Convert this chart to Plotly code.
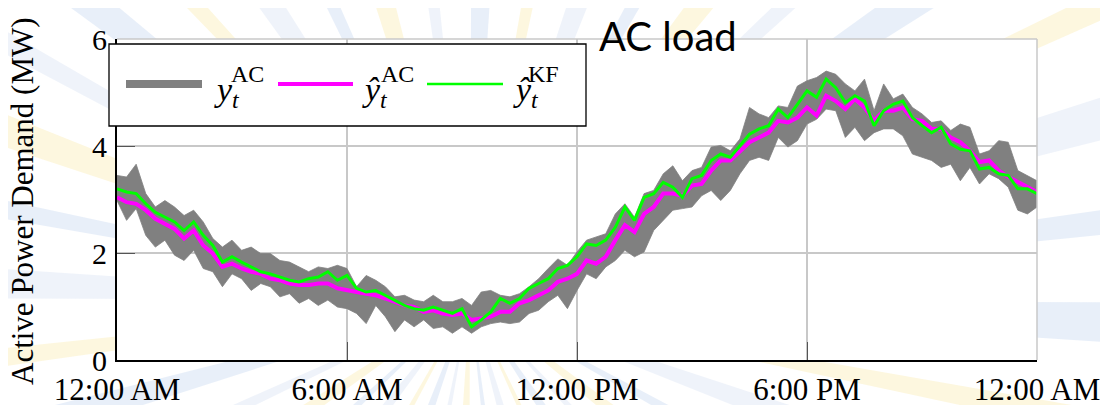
import math
import plotly.graph_objects as go

# time axis: hours of the day, 15-minute steps
hours = [i * 0.25 for i in range(97)]

# gray band (measured AC load) upper / lower envelope, MW
ac_upper = [3.45, 3.42, 3.66, 3.11, 2.86, 2.98, 2.86, 2.70, 2.80, 2.58, 2.27, 2.11, 2.24, 2.05, 2.11, 1.99, 1.99, 1.86, 1.83, 1.74, 1.65, 1.74, 1.71, 1.77, 1.71,
            1.37, 1.58, 1.49, 1.37, 1.18, 1.21, 1.12, 1.09, 1.21, 1.09, 1.09, 1.15, 1.02, 1.27, 1.30, 1.21, 1.18, 1.24, 1.37, 1.52, 1.71, 1.89, 1.77, 2.02,
            2.24, 2.30, 2.36, 2.73, 2.92, 2.67, 3.11, 3.17, 3.48, 3.63, 3.35, 3.54, 3.60, 3.98, 4.01, 3.91, 4.13, 4.72, 4.60, 4.53, 4.75, 4.72, 5.12, 5.22,
            5.28, 5.40, 5.34, 5.16, 5.03, 5.25, 4.66, 5.16, 4.88, 4.97, 4.72, 4.60, 4.44, 4.47, 4.29, 4.41, 4.35, 3.85, 3.91, 4.10, 4.07, 3.54, 3.45, 3.35]
ac_lower = [2.98, 2.61, 2.83, 2.33, 2.11, 2.24, 1.96, 1.86, 2.05, 1.71, 1.65, 1.37, 1.61, 1.52, 1.30, 1.43, 1.37, 1.18, 1.24, 1.06, 1.15, 1.02, 1.12, 0.99, 0.96,
            0.87, 0.68, 1.02, 0.81, 0.53, 0.75, 0.62, 0.75, 0.59, 0.62, 0.50, 0.62, 0.50, 0.62, 0.68, 0.71, 0.68, 0.71, 0.87, 0.93, 1.09, 1.21, 0.96, 1.30,
            1.61, 1.52, 1.74, 1.86, 2.05, 1.93, 2.02, 2.42, 2.61, 2.80, 2.83, 2.86, 3.07, 3.17, 2.98, 3.17, 3.48, 3.73, 3.79, 3.73, 4.16, 3.98, 4.10, 4.41,
            4.50, 4.69, 4.66, 4.16, 4.35, 4.10, 4.25, 4.32, 4.32, 4.19, 3.85, 3.79, 3.73, 3.60, 3.66, 3.35, 3.60, 3.29, 3.48, 3.39, 3.23, 2.80, 2.73, 2.86]
# estimated AC load (magenta)
ac_est = [3.04, 2.95, 2.92, 2.80, 2.64, 2.55, 2.45, 2.27, 2.42, 2.14, 1.99, 1.74, 1.80, 1.71, 1.65, 1.61, 1.52, 1.49, 1.43, 1.40, 1.40, 1.43, 1.43, 1.34, 1.30,
          1.27, 1.24, 1.21, 1.15, 1.09, 1.02, 0.99, 0.90, 0.93, 0.87, 0.84, 0.87, 0.75, 0.78, 0.81, 0.90, 0.90, 1.06, 1.12, 1.21, 1.30, 1.46, 1.52, 1.61,
          1.86, 1.80, 1.93, 2.24, 2.52, 2.39, 2.73, 2.86, 3.11, 3.11, 3.07, 3.26, 3.29, 3.54, 3.73, 3.73, 3.91, 4.07, 4.16, 4.25, 4.47, 4.44, 4.53, 4.72,
          4.57, 4.94, 4.84, 4.69, 4.88, 4.72, 4.47, 4.66, 4.66, 4.72, 4.50, 4.47, 4.32, 4.32, 4.16, 4.07, 3.91, 3.70, 3.73, 3.54, 3.42, 3.32, 3.23, 3.14]
# Kalman filter estimate (green)
kf_est = [3.20, 3.14, 3.11, 2.92, 2.76, 2.67, 2.58, 2.42, 2.58, 2.33, 2.14, 1.83, 1.93, 1.83, 1.74, 1.65, 1.61, 1.55, 1.49, 1.46, 1.52, 1.55, 1.65, 1.49, 1.58,
          1.34, 1.27, 1.30, 1.21, 1.12, 1.02, 0.96, 0.93, 0.99, 0.93, 0.87, 0.96, 0.62, 0.75, 0.90, 1.15, 1.06, 1.15, 1.34, 1.43, 1.52, 1.71, 1.77, 1.93,
          2.17, 2.14, 2.24, 2.48, 2.86, 2.61, 3.04, 3.11, 3.32, 3.23, 3.04, 3.39, 3.45, 3.73, 3.85, 3.79, 4.01, 4.22, 4.32, 4.38, 4.69, 4.53, 4.78, 5.03,
          4.91, 5.25, 5.09, 4.81, 4.94, 4.84, 4.38, 4.66, 4.78, 4.84, 4.53, 4.38, 4.25, 4.35, 4.04, 3.94, 3.91, 3.57, 3.60, 3.48, 3.45, 3.20, 3.20, 3.11]

x_tickvals = [0, 6, 12, 18, 24]
x_ticktext = ["12:00 AM", "6:00 AM", "12:00 PM", "6:00 PM", "12:00 AM"]
y_tickvals = [0, 2, 4, 6]

GRAY = "#808080"
MAGENTA = "#ff00ff"
GREEN = "#00ff00"
SERIF = "Liberation Serif, Times New Roman, serif"

# the page body adds an 8px margin, so the figure is sized to fill the 1108x405 window
OFF = 8
W, H = 1108 - OFF, 405 - OFF
# plot area in window pixels: x 117..1037, y 39..360
L, R, T, B = 117 - OFF, W - (1037 - OFF), 39 - OFF, H - (360 - OFF)
PW, PH = W - L - R, H - T - B


def px(xp):
    # window pixel x -> paper x
    return (xp - OFF - L) / PW


def py(yp):
    # window pixel y -> paper y
    return (H - B - (yp - OFF)) / PH


fig = go.Figure()
fig.add_trace(go.Scatter(x=hours, y=ac_lower, mode="lines", line=dict(color=GRAY, width=0.8),
                         showlegend=False, hoverinfo="skip"))
fig.add_trace(go.Scatter(x=hours, y=ac_upper, mode="lines", line=dict(color=GRAY, width=0.8),
                         fill="tonexty", fillcolor=GRAY, name="y_t^AC", showlegend=False))
fig.add_trace(go.Scatter(x=hours, y=ac_est, mode="lines", line=dict(color=MAGENTA, width=4),
                         name="ŷ_t^AC", showlegend=False))
fig.add_trace(go.Scatter(x=hours, y=kf_est, mode="lines", line=dict(color=GREEN, width=3),
                         name="ŷ_t^KF", showlegend=False))

shapes = []
# faint sunburst watermark behind the figure (visible only in the margins)
cx, cy = 470, 300
ray_cols = ["rgba(205,220,242,0.45)", "rgba(250,236,175,0.40)", "rgba(210,222,242,0.35)"]
for k in range(40):
    a = math.radians(k * 9 + 2)
    half = math.radians(1.8 if k % 2 == 0 else 1.1)
    r = 1500
    p1 = (cx + r * math.cos(a - half), cy + r * math.sin(a - half))
    p2 = (cx + r * math.cos(a + half), cy + r * math.sin(a + half))
    path = "M {:.4f} {:.4f} L {:.4f} {:.4f} L {:.4f} {:.4f} Z".format(
        px(cx), py(cy), px(p1[0]), py(p1[1]), px(p2[0]), py(p2[1]))
    shapes.append(dict(type="path", xref="paper", yref="paper", path=path,
                       fillcolor=ray_cols[k % 3], line=dict(width=0), layer="below"))
# white plot area on top of the watermark
shapes.append(dict(type="rect", xref="paper", yref="paper", x0=0, x1=1, y0=0, y1=1,
                   fillcolor="white", line=dict(width=0), layer="below"))

shapes += [
    # top/right frame (light gray)
    dict(type="line", xref="paper", yref="paper", x0=0, x1=1, y0=1, y1=1,
         line=dict(color="#c8c8c8", width=1.5), layer="above"),
    dict(type="line", xref="paper", yref="paper", x0=1, x1=1, y0=0, y1=1,
         line=dict(color="#c8c8c8", width=1.5), layer="above"),
    # legend box
    dict(type="rect", xref="paper", yref="paper", x0=px(109), x1=px(586), y0=py(126), y1=py(44),
         line=dict(color="black", width=1.3), fillcolor="white", layer="above"),
    dict(type="line", xref="paper", yref="paper", x0=px(126), x1=px(202), y0=py(84), y1=py(84),
         line=dict(color=GRAY, width=8), layer="above"),
    dict(type="line", xref="paper", yref="paper", x0=px(278), x1=px(353), y0=py(84), y1=py(84),
         line=dict(color=MAGENTA, width=4), layer="above"),
    dict(type="line", xref="paper", yref="paper", x0=px(427), x1=px(503), y0=py(84), y1=py(84),
         line=dict(color=GREEN, width=2.5), layer="above"),
]

ann = []
leg_main = [("<i>y</i><sub><i>t</i></sub>", 212, "AC", 229),
            ("<i>ŷ</i><sub><i>t</i></sub>", 360, "AC", 379),
            ("<i>ŷ</i><sub><i>t</i></sub>", 511, "KF", 526)]
for main, xm, sup, xs in leg_main:
    ann.append(dict(text=main, xref="paper", yref="paper", x=px(xm), y=py(92), xanchor="left",
                    yanchor="middle", showarrow=False, font=dict(family=SERIF, size=34, color="black")))
    ann.append(dict(text=sup, xref="paper", yref="paper", x=px(xs), y=py(74), xanchor="left",
                    yanchor="middle", showarrow=False, font=dict(family=SERIF, size=24, color="black")))

ann.append(dict(text="AC load", xref="paper", yref="paper", x=px(668), y=py(36), xanchor="center",
                yanchor="middle", showarrow=False, font=dict(family="Lato, Open Sans, sans-serif", size=40, color="black")))
ann.append(dict(text="Active Power Demand (MW)", xref="paper", yref="paper", x=px(22), y=py(201),
                xanchor="center", yanchor="middle", textangle=-90, showarrow=False,
                font=dict(family=SERIF, size=31, color="black")))

fig.update_layout(
    width=W, height=H,
    margin=dict(l=L, r=R, t=T, b=B, autoexpand=False),
    paper_bgcolor="white", plot_bgcolor="white",
    showlegend=False,
    shapes=shapes, annotations=ann,
    xaxis=dict(range=[0, 24], tickvals=x_tickvals, ticktext=x_ticktext, automargin=False,
               showgrid=True, gridcolor="#c8c8c8", gridwidth=1.5, zeroline=False,
               showline=True, linecolor="black", linewidth=2,
               ticks="inside", ticklen=18, tickcolor="#555555", tickwidth=1,
               ticklabelstandoff=1,
               tickfont=dict(family=SERIF, size=31, color="black")),
    yaxis=dict(range=[0, 6], tickvals=y_tickvals, automargin=False,
               showgrid=True, gridcolor="#c8c8c8", gridwidth=1.5, zeroline=False,
               showline=True, linecolor="black", linewidth=2,
               ticks="inside", ticklen=18, tickcolor="#555555", tickwidth=1,
               ticklabelstandoff=2,
               tickfont=dict(family=SERIF, size=30, color="black")),
)

fig.write_html("out.html")
